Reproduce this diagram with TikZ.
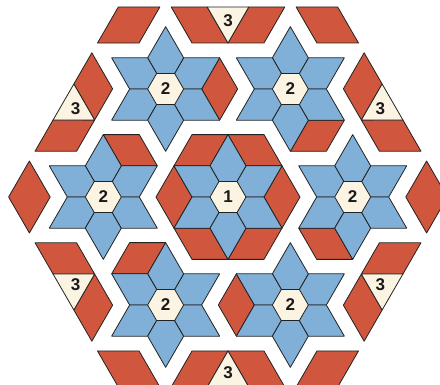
\documentclass[tikz,border=0pt]{standalone}
\usepackage{fontspec}
\setmainfont{Liberation Sans}
\definecolor{bluec}{HTML}{80B0D7}
\definecolor{redc}{HTML}{D0573D}
\definecolor{creamc}{HTML}{FCF4E3}
\definecolor{edgec}{HTML}{222222}
\tikzset{
  piece/.style={draw=edgec, line width=0.8pt, line join=round},
  lbl/.style={font=\bfseries\fontsize{17}{17}\selectfont, text=black!90, inner sep=0pt}
}
% star: #1 = centre coordinate
\newcommand{\mystar}[1]{%
  \begin{scope}[shift={(#1)}]
    \foreach \a in {30,90,...,330} {
      \draw[piece, fill=bluec] (0,0) -- (\a-30:36) -- (\a:62.354) -- (\a+30:36) -- cycle;
    }
    \draw[piece, fill=creamc] (0:18) -- (60:18) -- (120:18) -- (180:18) -- (240:18) -- (300:18) -- cycle;
  \end{scope}}
% red notch of a star: #1 = centre, #2 = direction
\newcommand{\mynotch}[2]{%
  \begin{scope}[shift={(#1)}]
    \draw[piece, fill=redc] (#2:36) -- (#2-30:62.354) -- (#2:72) -- (#2+30:62.354) -- cycle;
  \end{scope}}
\begin{document}
\begin{tikzpicture}[x=1pt,y=1pt]
\useasboundingbox (-228,-188) rectangle (212,197);
\clip (-228,-188) rectangle (212,197);
% centres
\coordinate (c1) at (0,0);
\foreach \k in {0,...,5} {\coordinate (s\k) at ({60*\k}:124.708);}
% centre star with all notches
\foreach \t in {0,60,...,300} {\mynotch{c1}{\t}}
\mystar{c1}
\node[lbl] (lab1) at (c1) {1};
% ring of stars 2
\foreach \k in {0,...,5} {
  \pgfmathsetmacro{\nd}{60*\k-120}
  \mynotch{s\k}{\nd}
  \mystar{s\k}
  \node[lbl] (lab2\k) at (s\k) {2};
}
% outer frame pieces
\foreach \k in {0,...,5} {
  \begin{scope}[rotate={60*\k}]
    \draw[piece, fill=redc] (-56.8,190) -- (-20.8,190) -- (0,154) -- (-36,154) -- cycle;
    \draw[piece, fill=redc] (20.8,190) -- (56.8,190) -- (36,154) -- (0,154) -- cycle;
    \draw[piece, fill=creamc] (-20.8,190) -- (20.8,190) -- (0,154) -- cycle;
    \draw[piece, fill=redc] (68.1,190) -- (109.7,190) -- (130.5,154) -- (88.9,154) -- cycle;
  \end{scope}
  \node[lbl] (lab3\k) at ({90+60*\k}:176) {3};
}
\end{tikzpicture}
\end{document}
